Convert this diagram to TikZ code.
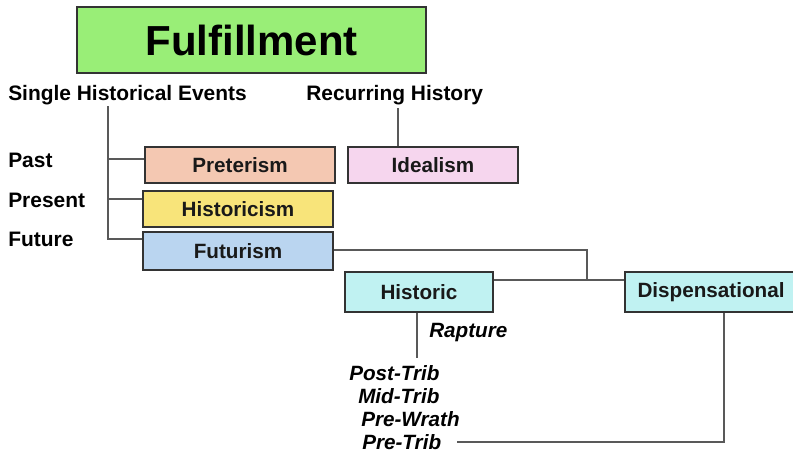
\documentclass[tikz,border=0pt]{standalone}
\usepackage{fontspec}
\setmainfont{Liberation Sans}
\begin{document}
\begin{tikzpicture}[x=0.75pt,y=-0.75pt,
  box/.style={draw=black!80, line width=1.5pt, inner sep=0pt, font=\bfseries\fontsize{15.5}{18}\selectfont, text=black!90},
  lbl/.style={inner sep=0pt, font=\bfseries\fontsize{15.7}{18}\selectfont, text=black},
  ilbl/.style={inner sep=0pt, font=\bfseries\itshape\fontsize{15.5}{18}\selectfont, text=black},
  conn/.style={draw=black!65, line width=1.2pt}]
\useasboundingbox (0,0) rectangle (793,455);
\definecolor{cgreen}{HTML}{99EE77}
\definecolor{csalmon}{HTML}{F4C8B2}
\definecolor{cyellow}{HTML}{F8E47A}
\definecolor{cblue}{HTML}{BAD5F0}
\definecolor{cpink}{HTML}{F6D6EE}
\definecolor{ccyan}{HTML}{C0F2F2}

\node[box, fill=cgreen, minimum width=261.75pt, minimum height=49.5pt, text=black, font=\bfseries\fontsize{31.5}{36}\selectfont] (ful) at (251.5,40) {Fulfillment};

\node[lbl, anchor=base west] (single) at (8,100) {Single Historical Events};
\node[lbl, anchor=base west] (recur) at (306,100) {Recurring History};
\node[lbl, anchor=base west] (past) at (8,167) {Past};
\node[lbl, anchor=base west] (present) at (8,207) {Present};
\node[lbl, anchor=base west] (future) at (8,246) {Future};

\node[box, fill=csalmon, minimum width=142.5pt, minimum height=27pt] (pret) at (240,165) {Preterism};
\node[box, fill=cyellow, minimum width=142.5pt, minimum height=27pt] (histm) at (238,209) {Historicism};
\node[box, fill=cblue, minimum width=142.5pt, minimum height=28.5pt] (fut) at (238,251) {Futurism};
\node[box, fill=cpink, minimum width=127.5pt, minimum height=27pt] (ideal) at (433,165) {Idealism};
\node[box, fill=ccyan, minimum width=111pt, minimum height=30pt] (hist) at (419,292) {Historic};
\node[box, fill=ccyan, minimum width=141pt, minimum height=30pt] (disp) at (719,292) {};
\node[box, draw=none, anchor=center] (disptext) at (711,292) {Dispensational};

\node[ilbl, anchor=base west] (rapture) at (429,337) {Rapture};
\node[ilbl, anchor=base west] (post) at (349,380) {Post-Trib};
\node[ilbl, anchor=base west] (mid) at (358,403) {Mid-Trib};
\node[ilbl, anchor=base west] (wrath) at (361,426) {Pre-Wrath};
\node[ilbl, anchor=base west] (pre) at (362,449) {Pre-Trib};

% single historical events trunk
\coordinate (sj) at (108,106);
\coordinate (sp) at (108,159);
\coordinate (sh) at (108,199);
\coordinate (sf) at (108,239);
\draw[conn] (sj) -- (sf) -- (fut.west |- sf);
\draw[conn] (sp) -- (pret.west |- sp);
\draw[conn] (sh) -- (histm.west |- sh);

% recurring history
\coordinate (rj) at (398,108);
\draw[conn] (rj) -- (ideal.north -| rj);

% futurism to historic / dispensational
\coordinate (fj) at (587,250);
\coordinate (hj) at (587,280);
\draw[conn] (fut.east |- fj) -- (fj) -- (hj);
\draw[conn] (hist.east |- hj) -- (disp.west |- hj);

% historic rapture line
\coordinate (hr) at (417,358);
\draw[conn] (hist.south -| hr) -- (hr);

% pre-trib to dispensational
\coordinate (pt) at (457,442);
\coordinate (dc) at (724,442);
\draw[conn] (pt) -- (dc) -- (disp.south -| dc);
\end{tikzpicture}
\end{document}
